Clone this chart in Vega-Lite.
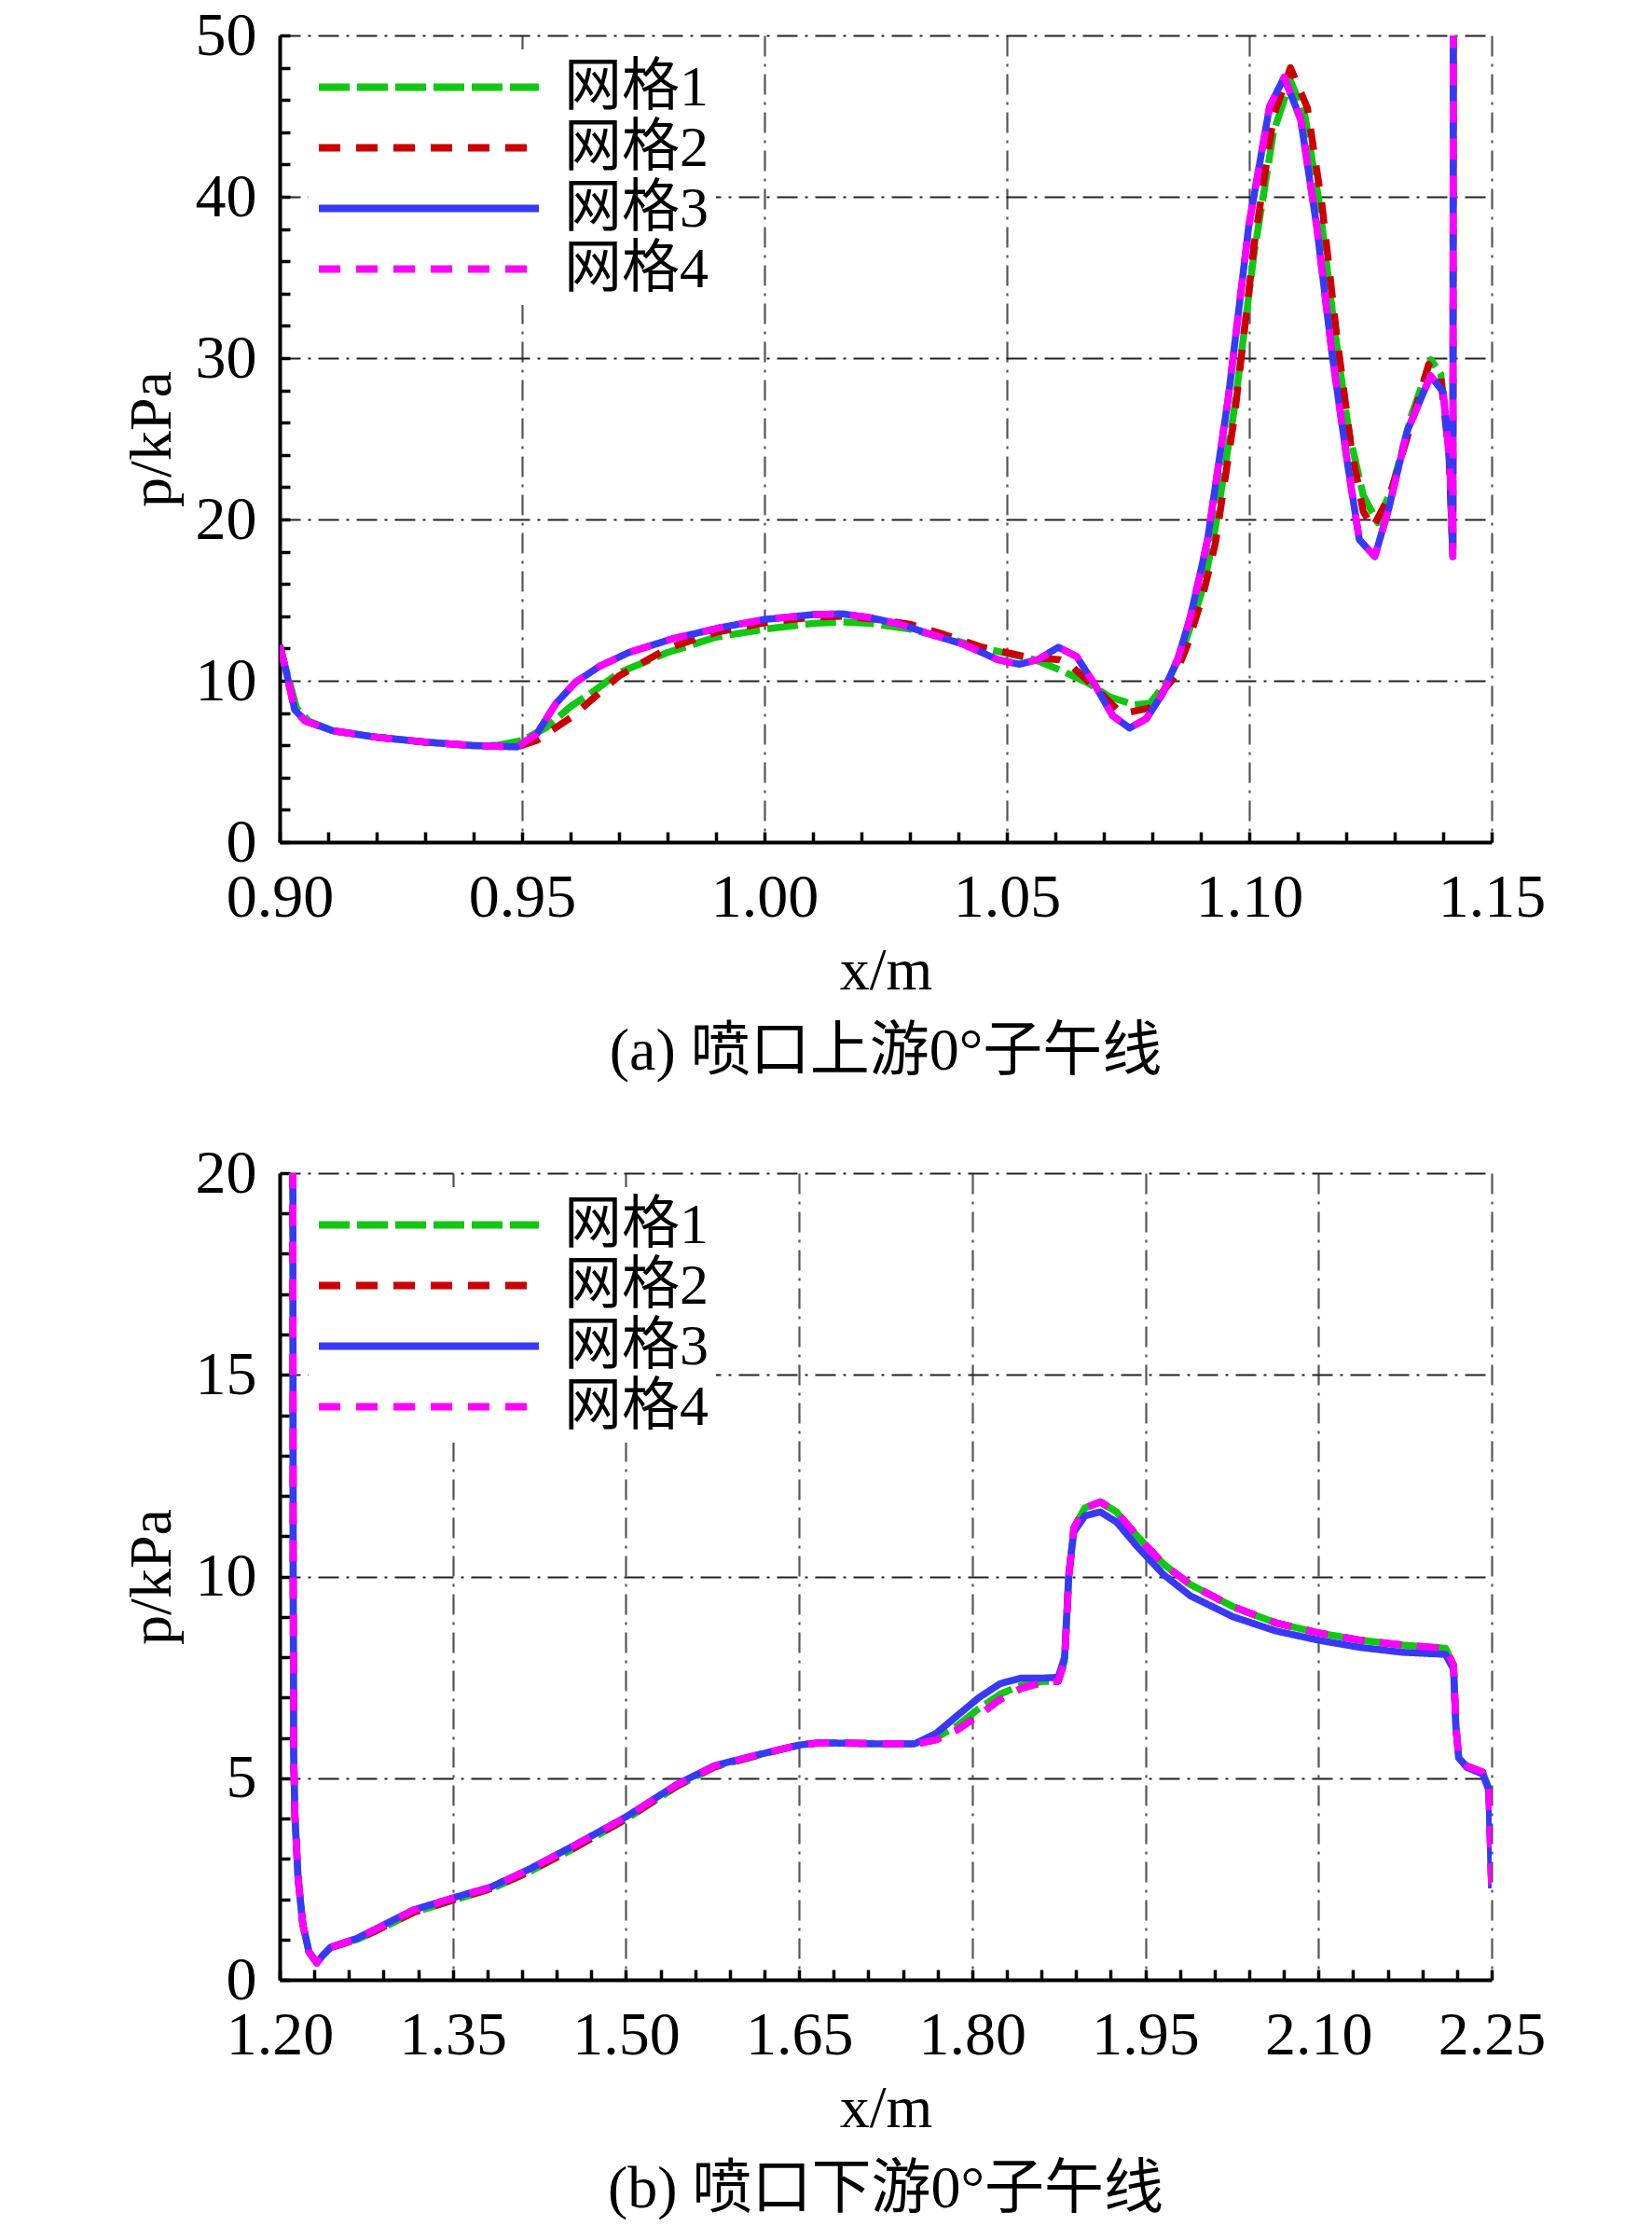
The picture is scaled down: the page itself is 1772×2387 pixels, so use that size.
{
  "$schema": "https://vega.github.io/schema/vega-lite/v6.json",
  "padding": {"left": 131, "top": 5, "right": 0, "bottom": 0},
  "spacing": 65,
  "datasets": {
    "a": [
      {"g": "网格1", "x": 0.9, "p": 12.2}, {"g": "网格1", "x": 0.9014, "p": 10.6}, {"g": "网格1", "x": 0.9035, "p": 8.3}, {"g": "网格1", "x": 0.906, "p": 7.5},
      {"g": "网格1", "x": 0.911, "p": 6.9}, {"g": "网格1", "x": 0.92, "p": 6.5}, {"g": "网格1", "x": 0.93, "p": 6.2}, {"g": "网格1", "x": 0.94, "p": 5.98},
      {"g": "网格1", "x": 0.945, "p": 6.0}, {"g": "网格1", "x": 0.95, "p": 6.3}, {"g": "网格1", "x": 0.955, "p": 7.1}, {"g": "网格1", "x": 0.96, "p": 8.4},
      {"g": "网格1", "x": 0.965, "p": 9.4}, {"g": "网格1", "x": 0.97, "p": 10.5}, {"g": "网格1", "x": 0.98, "p": 11.75}, {"g": "网格1", "x": 0.99, "p": 12.7},
      {"g": "网格1", "x": 1.0, "p": 13.2}, {"g": "网格1", "x": 1.01, "p": 13.55}, {"g": "网格1", "x": 1.016, "p": 13.65}, {"g": "网格1", "x": 1.022, "p": 13.55},
      {"g": "网格1", "x": 1.03, "p": 13.2}, {"g": "网格1", "x": 1.037, "p": 12.7}, {"g": "网格1", "x": 1.044, "p": 12.1}, {"g": "网格1", "x": 1.05, "p": 11.7},
      {"g": "网格1", "x": 1.0558, "p": 11.3}, {"g": "网格1", "x": 1.0615, "p": 10.6}, {"g": "网格1", "x": 1.0667, "p": 9.87}, {"g": "网格1", "x": 1.0712, "p": 9.0},
      {"g": "网格1", "x": 1.0763, "p": 8.51}, {"g": "网格1", "x": 1.0795, "p": 8.6}, {"g": "网格1", "x": 1.0833, "p": 10.06}, {"g": "网格1", "x": 1.0859, "p": 11.6},
      {"g": "网格1", "x": 1.0885, "p": 13.9}, {"g": "网格1", "x": 1.0907, "p": 16.0}, {"g": "网格1", "x": 1.093, "p": 19.5}, {"g": "网格1", "x": 1.097, "p": 27.0},
      {"g": "网格1", "x": 1.101, "p": 36.5}, {"g": "网格1", "x": 1.105, "p": 44.0}, {"g": "网格1", "x": 1.1085, "p": 47.2}, {"g": "网格1", "x": 1.1115, "p": 45.0},
      {"g": "网格1", "x": 1.1145, "p": 39.5}, {"g": "网格1", "x": 1.1175, "p": 32.0}, {"g": "网格1", "x": 1.1205, "p": 25.5}, {"g": "网格1", "x": 1.1235, "p": 21.5},
      {"g": "网格1", "x": 1.1265, "p": 19.8}, {"g": "网格1", "x": 1.1295, "p": 22.0}, {"g": "网格1", "x": 1.1335, "p": 26.5}, {"g": "网格1", "x": 1.1375, "p": 29.9},
      {"g": "网格1", "x": 1.1395, "p": 29.0}, {"g": "网格1", "x": 1.1412, "p": 24.5}, {"g": "网格1", "x": 1.142, "p": 17.7}, {"g": "网格1", "x": 1.1421, "p": 55},

      {"g": "网格2", "x": 0.9, "p": 12.2}, {"g": "网格2", "x": 0.9014, "p": 10.5}, {"g": "网格2", "x": 0.9031, "p": 8.2}, {"g": "网格2", "x": 0.9053, "p": 7.5},
      {"g": "网格2", "x": 0.911, "p": 6.9}, {"g": "网格2", "x": 0.92, "p": 6.5}, {"g": "网格2", "x": 0.93, "p": 6.2}, {"g": "网格2", "x": 0.94, "p": 5.98},
      {"g": "网格2", "x": 0.949, "p": 5.9}, {"g": "网格2", "x": 0.953, "p": 6.3}, {"g": "网格2", "x": 0.9565, "p": 7.0}, {"g": "网格2", "x": 0.96, "p": 7.7},
      {"g": "网格2", "x": 0.965, "p": 9.0}, {"g": "网格2", "x": 0.97, "p": 10.3}, {"g": "网格2", "x": 0.98, "p": 12.0}, {"g": "网格2", "x": 0.99, "p": 13.0},
      {"g": "网格2", "x": 1.0, "p": 13.6}, {"g": "网格2", "x": 1.01, "p": 13.95}, {"g": "网格2", "x": 1.016, "p": 14.0}, {"g": "网格2", "x": 1.022, "p": 13.85},
      {"g": "网格2", "x": 1.03, "p": 13.5}, {"g": "网格2", "x": 1.0372, "p": 12.85}, {"g": "网格2", "x": 1.0449, "p": 12.08}, {"g": "网格2", "x": 1.0538, "p": 11.5},
      {"g": "网格2", "x": 1.0609, "p": 11.3}, {"g": "网格2", "x": 1.063, "p": 11.0}, {"g": "网格2", "x": 1.0679, "p": 9.67}, {"g": "网格2", "x": 1.0731, "p": 8.13},
      {"g": "网格2", "x": 1.0744, "p": 8.0}, {"g": "网格2", "x": 1.0795, "p": 8.32}, {"g": "网格2", "x": 1.0846, "p": 10.25}, {"g": "网格2", "x": 1.0872, "p": 12.18},
      {"g": "网格2", "x": 1.0904, "p": 15.26}, {"g": "网格2", "x": 1.093, "p": 18.5}, {"g": "网格2", "x": 1.097, "p": 26.5}, {"g": "网格2", "x": 1.101, "p": 37.0},
      {"g": "网格2", "x": 1.105, "p": 45.0}, {"g": "网格2", "x": 1.1085, "p": 48.0}, {"g": "网格2", "x": 1.112, "p": 45.5}, {"g": "网格2", "x": 1.115, "p": 39.5},
      {"g": "网格2", "x": 1.118, "p": 31.5}, {"g": "网格2", "x": 1.121, "p": 24.5}, {"g": "网格2", "x": 1.1235, "p": 20.5}, {"g": "网格2", "x": 1.1255, "p": 19.5},
      {"g": "网格2", "x": 1.129, "p": 21.5}, {"g": "网格2", "x": 1.133, "p": 25.5}, {"g": "网格2", "x": 1.137, "p": 29.6}, {"g": "网格2", "x": 1.1395, "p": 28.8},
      {"g": "网格2", "x": 1.1412, "p": 24.0}, {"g": "网格2", "x": 1.142, "p": 17.7}, {"g": "网格2", "x": 1.1421, "p": 55},

      {"g": "网格3", "x": 0.9, "p": 12.2}, {"g": "网格3", "x": 0.9014, "p": 10.5}, {"g": "网格3", "x": 0.9031, "p": 8.2}, {"g": "网格3", "x": 0.9053, "p": 7.5},
      {"g": "网格3", "x": 0.911, "p": 6.9}, {"g": "网格3", "x": 0.92, "p": 6.5}, {"g": "网格3", "x": 0.93, "p": 6.2}, {"g": "网格3", "x": 0.94, "p": 5.98},
      {"g": "网格3", "x": 0.949, "p": 5.9}, {"g": "网格3", "x": 0.953, "p": 6.7}, {"g": "网格3", "x": 0.957, "p": 8.6}, {"g": "网格3", "x": 0.961, "p": 9.9},
      {"g": "网格3", "x": 0.966, "p": 10.9}, {"g": "网格3", "x": 0.972, "p": 11.75}, {"g": "网格3", "x": 0.981, "p": 12.6}, {"g": "网格3", "x": 0.991, "p": 13.3},
      {"g": "网格3", "x": 1.0, "p": 13.8}, {"g": "网格3", "x": 1.01, "p": 14.1}, {"g": "网格3", "x": 1.016, "p": 14.15}, {"g": "网格3", "x": 1.022, "p": 13.9},
      {"g": "网格3", "x": 1.028, "p": 13.5}, {"g": "网格3", "x": 1.0346, "p": 12.85}, {"g": "网格3", "x": 1.041, "p": 12.27}, {"g": "网格3", "x": 1.0481, "p": 11.31},
      {"g": "网格3", "x": 1.0526, "p": 11.02}, {"g": "网格3", "x": 1.0564, "p": 11.31}, {"g": "网格3", "x": 1.0606, "p": 12.08}, {"g": "网格3", "x": 1.0644, "p": 11.5},
      {"g": "网格3", "x": 1.0679, "p": 9.87}, {"g": "网格3", "x": 1.0718, "p": 7.84}, {"g": "网格3", "x": 1.0753, "p": 7.07}, {"g": "网格3", "x": 1.0788, "p": 7.65},
      {"g": "网格3", "x": 1.0821, "p": 9.19}, {"g": "网格3", "x": 1.0853, "p": 11.4}, {"g": "网格3", "x": 1.0878, "p": 13.9}, {"g": "网格3", "x": 1.0897, "p": 16.4},
      {"g": "网格3", "x": 1.0914, "p": 18.75}, {"g": "网格3", "x": 1.0957, "p": 27.6}, {"g": "网格3", "x": 1.0999, "p": 38.2}, {"g": "网格3", "x": 1.1042, "p": 45.6},
      {"g": "网格3", "x": 1.1072, "p": 47.4}, {"g": "网格3", "x": 1.1106, "p": 44.8}, {"g": "网格3", "x": 1.1139, "p": 38.2}, {"g": "网格3", "x": 1.1171, "p": 30.2},
      {"g": "网格3", "x": 1.1203, "p": 23.4}, {"g": "网格3", "x": 1.1227, "p": 18.75}, {"g": "网格3", "x": 1.1259, "p": 17.7}, {"g": "网格3", "x": 1.1288, "p": 20.7},
      {"g": "网格3", "x": 1.1326, "p": 25.5}, {"g": "网格3", "x": 1.1374, "p": 28.9}, {"g": "网格3", "x": 1.14, "p": 27.9}, {"g": "网格3", "x": 1.1414, "p": 23.4},
      {"g": "网格3", "x": 1.142, "p": 17.7}, {"g": "网格3", "x": 1.1421, "p": 55},

      {"g": "网格4", "x": 0.9, "p": 12.2}, {"g": "网格4", "x": 0.9014, "p": 10.5}, {"g": "网格4", "x": 0.9031, "p": 8.2}, {"g": "网格4", "x": 0.9053, "p": 7.5},
      {"g": "网格4", "x": 0.911, "p": 6.9}, {"g": "网格4", "x": 0.92, "p": 6.5}, {"g": "网格4", "x": 0.93, "p": 6.2}, {"g": "网格4", "x": 0.94, "p": 5.98},
      {"g": "网格4", "x": 0.949, "p": 5.9}, {"g": "网格4", "x": 0.953, "p": 6.7}, {"g": "网格4", "x": 0.957, "p": 8.6}, {"g": "网格4", "x": 0.961, "p": 9.9},
      {"g": "网格4", "x": 0.966, "p": 10.9}, {"g": "网格4", "x": 0.972, "p": 11.75}, {"g": "网格4", "x": 0.981, "p": 12.6}, {"g": "网格4", "x": 0.991, "p": 13.3},
      {"g": "网格4", "x": 1.0, "p": 13.8}, {"g": "网格4", "x": 1.01, "p": 14.1}, {"g": "网格4", "x": 1.016, "p": 14.15}, {"g": "网格4", "x": 1.022, "p": 13.9},
      {"g": "网格4", "x": 1.028, "p": 13.5}, {"g": "网格4", "x": 1.0346, "p": 12.85}, {"g": "网格4", "x": 1.041, "p": 12.27}, {"g": "网格4", "x": 1.0481, "p": 11.31},
      {"g": "网格4", "x": 1.0526, "p": 11.02}, {"g": "网格4", "x": 1.0564, "p": 11.31}, {"g": "网格4", "x": 1.0606, "p": 12.08}, {"g": "网格4", "x": 1.0644, "p": 11.5},
      {"g": "网格4", "x": 1.0679, "p": 9.87}, {"g": "网格4", "x": 1.0718, "p": 7.84}, {"g": "网格4", "x": 1.0753, "p": 7.07}, {"g": "网格4", "x": 1.0788, "p": 7.65},
      {"g": "网格4", "x": 1.0821, "p": 9.19}, {"g": "网格4", "x": 1.0853, "p": 11.4}, {"g": "网格4", "x": 1.0878, "p": 13.9}, {"g": "网格4", "x": 1.0897, "p": 16.4},
      {"g": "网格4", "x": 1.0914, "p": 18.75}, {"g": "网格4", "x": 1.0957, "p": 27.6}, {"g": "网格4", "x": 1.0999, "p": 38.2}, {"g": "网格4", "x": 1.1042, "p": 45.6},
      {"g": "网格4", "x": 1.1072, "p": 47.4}, {"g": "网格4", "x": 1.1106, "p": 44.8}, {"g": "网格4", "x": 1.1139, "p": 38.2}, {"g": "网格4", "x": 1.1171, "p": 30.2},
      {"g": "网格4", "x": 1.1203, "p": 23.4}, {"g": "网格4", "x": 1.1227, "p": 18.75}, {"g": "网格4", "x": 1.1259, "p": 17.7}, {"g": "网格4", "x": 1.1288, "p": 20.7},
      {"g": "网格4", "x": 1.1326, "p": 25.5}, {"g": "网格4", "x": 1.1374, "p": 28.9}, {"g": "网格4", "x": 1.14, "p": 27.9}, {"g": "网格4", "x": 1.1414, "p": 23.4},
      {"g": "网格4", "x": 1.142, "p": 17.7}, {"g": "网格4", "x": 1.1421, "p": 55}
    ],
    "b": [
      {"g": "网格1", "x": 1.2114, "p": 22}, {"g": "网格1", "x": 1.2117, "p": 10}, {"g": "网格1", "x": 1.2121, "p": 5.6}, {"g": "网格1", "x": 1.2132, "p": 4.07},
      {"g": "网格1", "x": 1.2159, "p": 2.54}, {"g": "网格1", "x": 1.22, "p": 1.38}, {"g": "网格1", "x": 1.2254, "p": 0.69}, {"g": "网格1", "x": 1.2321, "p": 0.42},
      {"g": "网格1", "x": 1.2375, "p": 0.61}, {"g": "网格1", "x": 1.2442, "p": 0.8}, {"g": "网格1", "x": 1.2671, "p": 1.0}, {"g": "网格1", "x": 1.2886, "p": 1.28},
      {"g": "网格1", "x": 1.3156, "p": 1.66}, {"g": "网格1", "x": 1.35, "p": 1.97}, {"g": "网格1", "x": 1.3829, "p": 2.25}, {"g": "网格1", "x": 1.4153, "p": 2.66},
      {"g": "网格1", "x": 1.4557, "p": 3.27}, {"g": "网格1", "x": 1.5, "p": 3.98}, {"g": "网格1", "x": 1.5444, "p": 4.8}, {"g": "网格1", "x": 1.5767, "p": 5.28},
      {"g": "网格1", "x": 1.6144, "p": 5.57}, {"g": "网格1", "x": 1.65, "p": 5.82}, {"g": "网格1", "x": 1.6676, "p": 5.87}, {"g": "网格1", "x": 1.7136, "p": 5.86},
      {"g": "网格1", "x": 1.75, "p": 5.85}, {"g": "网格1", "x": 1.7687, "p": 6.0}, {"g": "网格1", "x": 1.787, "p": 6.3}, {"g": "网格1", "x": 1.8055, "p": 6.72},
      {"g": "网格1", "x": 1.824, "p": 7.08}, {"g": "网格1", "x": 1.842, "p": 7.3}, {"g": "网格1", "x": 1.8607, "p": 7.4}, {"g": "网格1", "x": 1.8745, "p": 7.4},
      {"g": "网格1", "x": 1.88, "p": 7.9}, {"g": "网格1", "x": 1.8837, "p": 10.0}, {"g": "网格1", "x": 1.888, "p": 11.2}, {"g": "网格1", "x": 1.8975, "p": 11.7},
      {"g": "网格1", "x": 1.911, "p": 11.85}, {"g": "网格1", "x": 1.925, "p": 11.6}, {"g": "网格1", "x": 1.943, "p": 11.0}, {"g": "网格1", "x": 1.966, "p": 10.3},
      {"g": "网格1", "x": 1.989, "p": 9.8}, {"g": "网格1", "x": 2.026, "p": 9.25}, {"g": "网格1", "x": 2.063, "p": 8.85}, {"g": "网格1", "x": 2.1, "p": 8.6},
      {"g": "网格1", "x": 2.1365, "p": 8.42}, {"g": "网格1", "x": 2.173, "p": 8.3}, {"g": "网格1", "x": 2.21, "p": 8.22}, {"g": "网格1", "x": 2.217, "p": 7.8},
      {"g": "网格1", "x": 2.219, "p": 6.3}, {"g": "网格1", "x": 2.2215, "p": 5.5}, {"g": "网格1", "x": 2.2284, "p": 5.3}, {"g": "网格1", "x": 2.2422, "p": 5.15},
      {"g": "网格1", "x": 2.2476, "p": 4.75}, {"g": "网格1", "x": 2.25, "p": 2.27},

      {"g": "网格2", "x": 1.2114, "p": 22}, {"g": "网格2", "x": 1.2117, "p": 10}, {"g": "网格2", "x": 1.2121, "p": 5.6}, {"g": "网格2", "x": 1.2132, "p": 4.07},
      {"g": "网格2", "x": 1.2159, "p": 2.54}, {"g": "网格2", "x": 1.22, "p": 1.38}, {"g": "网格2", "x": 1.2254, "p": 0.69}, {"g": "网格2", "x": 1.2321, "p": 0.42},
      {"g": "网格2", "x": 1.2375, "p": 0.61}, {"g": "网格2", "x": 1.2442, "p": 0.8}, {"g": "网格2", "x": 1.2671, "p": 1.0}, {"g": "网格2", "x": 1.2886, "p": 1.29},
      {"g": "网格2", "x": 1.3156, "p": 1.67}, {"g": "网格2", "x": 1.35, "p": 1.98}, {"g": "网格2", "x": 1.3829, "p": 2.26}, {"g": "网格2", "x": 1.4153, "p": 2.67},
      {"g": "网格2", "x": 1.4557, "p": 3.28}, {"g": "网格2", "x": 1.5, "p": 3.99}, {"g": "网格2", "x": 1.5444, "p": 4.81}, {"g": "网格2", "x": 1.5767, "p": 5.28},
      {"g": "网格2", "x": 1.6144, "p": 5.57}, {"g": "网格2", "x": 1.65, "p": 5.82}, {"g": "网格2", "x": 1.6676, "p": 5.87}, {"g": "网格2", "x": 1.7136, "p": 5.86},
      {"g": "网格2", "x": 1.75, "p": 5.84}, {"g": "网格2", "x": 1.7687, "p": 5.95}, {"g": "网格2", "x": 1.787, "p": 6.2}, {"g": "网格2", "x": 1.8055, "p": 6.55},
      {"g": "网格2", "x": 1.824, "p": 6.95}, {"g": "网格2", "x": 1.842, "p": 7.22}, {"g": "网格2", "x": 1.8607, "p": 7.37}, {"g": "网格2", "x": 1.8745, "p": 7.4},
      {"g": "网格2", "x": 1.88, "p": 7.9}, {"g": "网格2", "x": 1.8837, "p": 10.0}, {"g": "网格2", "x": 1.888, "p": 11.2}, {"g": "网格2", "x": 1.8975, "p": 11.7},
      {"g": "网格2", "x": 1.911, "p": 11.85}, {"g": "网格2", "x": 1.925, "p": 11.6}, {"g": "网格2", "x": 1.943, "p": 11.0}, {"g": "网格2", "x": 1.966, "p": 10.3},
      {"g": "网格2", "x": 1.989, "p": 9.8}, {"g": "网格2", "x": 2.026, "p": 9.25}, {"g": "网格2", "x": 2.063, "p": 8.85}, {"g": "网格2", "x": 2.1, "p": 8.6},
      {"g": "网格2", "x": 2.1365, "p": 8.42}, {"g": "网格2", "x": 2.173, "p": 8.3}, {"g": "网格2", "x": 2.21, "p": 8.22}, {"g": "网格2", "x": 2.217, "p": 7.8},
      {"g": "网格2", "x": 2.219, "p": 6.3}, {"g": "网格2", "x": 2.2215, "p": 5.5}, {"g": "网格2", "x": 2.2284, "p": 5.3}, {"g": "网格2", "x": 2.2422, "p": 5.15},
      {"g": "网格2", "x": 2.2476, "p": 4.75}, {"g": "网格2", "x": 2.25, "p": 2.27},

      {"g": "网格3", "x": 1.2114, "p": 22}, {"g": "网格3", "x": 1.2117, "p": 10}, {"g": "网格3", "x": 1.2121, "p": 5.6}, {"g": "网格3", "x": 1.2132, "p": 4.07},
      {"g": "网格3", "x": 1.2159, "p": 2.54}, {"g": "网格3", "x": 1.22, "p": 1.38}, {"g": "网格3", "x": 1.2254, "p": 0.69}, {"g": "网格3", "x": 1.2321, "p": 0.42},
      {"g": "网格3", "x": 1.2375, "p": 0.61}, {"g": "网格3", "x": 1.2442, "p": 0.81}, {"g": "网格3", "x": 1.2671, "p": 1.03}, {"g": "网格3", "x": 1.2886, "p": 1.34},
      {"g": "网格3", "x": 1.3156, "p": 1.73}, {"g": "网格3", "x": 1.35, "p": 2.03}, {"g": "网格3", "x": 1.3829, "p": 2.3}, {"g": "网格3", "x": 1.4153, "p": 2.73},
      {"g": "网格3", "x": 1.4557, "p": 3.34}, {"g": "网格3", "x": 1.5, "p": 4.04}, {"g": "网格3", "x": 1.5444, "p": 4.85}, {"g": "网格3", "x": 1.5767, "p": 5.31},
      {"g": "网格3", "x": 1.6144, "p": 5.58}, {"g": "网格3", "x": 1.65, "p": 5.82}, {"g": "网格3", "x": 1.6676, "p": 5.88}, {"g": "网格3", "x": 1.7136, "p": 5.85},
      {"g": "网格3", "x": 1.75, "p": 5.85}, {"g": "网格3", "x": 1.7687, "p": 6.11}, {"g": "网格3", "x": 1.787, "p": 6.55}, {"g": "网格3", "x": 1.8055, "p": 6.99},
      {"g": "网格3", "x": 1.824, "p": 7.34}, {"g": "网格3", "x": 1.842, "p": 7.48}, {"g": "网格3", "x": 1.8607, "p": 7.48}, {"g": "网格3", "x": 1.8745, "p": 7.5},
      {"g": "网格3", "x": 1.88, "p": 8.0}, {"g": "网格3", "x": 1.8837, "p": 10.1}, {"g": "网格3", "x": 1.888, "p": 11.1}, {"g": "网格3", "x": 1.8975, "p": 11.5},
      {"g": "网格3", "x": 1.911, "p": 11.6}, {"g": "网格3", "x": 1.925, "p": 11.35}, {"g": "网格3", "x": 1.943, "p": 10.74}, {"g": "网格3", "x": 1.966, "p": 10.04},
      {"g": "网格3", "x": 1.989, "p": 9.52}, {"g": "网格3", "x": 2.026, "p": 9.0}, {"g": "网格3", "x": 2.063, "p": 8.65}, {"g": "网格3", "x": 2.1, "p": 8.42},
      {"g": "网格3", "x": 2.1365, "p": 8.24}, {"g": "网格3", "x": 2.173, "p": 8.12}, {"g": "网格3", "x": 2.21, "p": 8.07}, {"g": "网格3", "x": 2.217, "p": 7.7},
      {"g": "网格3", "x": 2.219, "p": 6.29}, {"g": "网格3", "x": 2.2215, "p": 5.5}, {"g": "网格3", "x": 2.2284, "p": 5.27}, {"g": "网格3", "x": 2.2422, "p": 5.1},
      {"g": "网格3", "x": 2.2476, "p": 4.7}, {"g": "网格3", "x": 2.25, "p": 2.27},

      {"g": "网格4", "x": 1.2114, "p": 22}, {"g": "网格4", "x": 1.2117, "p": 10}, {"g": "网格4", "x": 1.2121, "p": 5.6}, {"g": "网格4", "x": 1.2132, "p": 4.07},
      {"g": "网格4", "x": 1.2159, "p": 2.54}, {"g": "网格4", "x": 1.22, "p": 1.38}, {"g": "网格4", "x": 1.2254, "p": 0.69}, {"g": "网格4", "x": 1.2321, "p": 0.42},
      {"g": "网格4", "x": 1.2375, "p": 0.61}, {"g": "网格4", "x": 1.2442, "p": 0.81}, {"g": "网格4", "x": 1.2671, "p": 1.02}, {"g": "网格4", "x": 1.2886, "p": 1.33},
      {"g": "网格4", "x": 1.3156, "p": 1.72}, {"g": "网格4", "x": 1.35, "p": 2.02}, {"g": "网格4", "x": 1.3829, "p": 2.29}, {"g": "网格4", "x": 1.4153, "p": 2.72},
      {"g": "网格4", "x": 1.4557, "p": 3.33}, {"g": "网格4", "x": 1.5, "p": 4.03}, {"g": "网格4", "x": 1.5444, "p": 4.84}, {"g": "网格4", "x": 1.5767, "p": 5.3},
      {"g": "网格4", "x": 1.6144, "p": 5.58}, {"g": "网格4", "x": 1.65, "p": 5.82}, {"g": "网格4", "x": 1.6676, "p": 5.87}, {"g": "网格4", "x": 1.7136, "p": 5.86},
      {"g": "网格4", "x": 1.75, "p": 5.84}, {"g": "网格4", "x": 1.7687, "p": 5.95}, {"g": "网格4", "x": 1.787, "p": 6.2}, {"g": "网格4", "x": 1.8055, "p": 6.55},
      {"g": "网格4", "x": 1.824, "p": 6.95}, {"g": "网格4", "x": 1.842, "p": 7.22}, {"g": "网格4", "x": 1.8607, "p": 7.37}, {"g": "网格4", "x": 1.8745, "p": 7.4},
      {"g": "网格4", "x": 1.88, "p": 7.9}, {"g": "网格4", "x": 1.8837, "p": 10.0}, {"g": "网格4", "x": 1.888, "p": 11.2}, {"g": "网格4", "x": 1.8975, "p": 11.7},
      {"g": "网格4", "x": 1.911, "p": 11.85}, {"g": "网格4", "x": 1.925, "p": 11.6}, {"g": "网格4", "x": 1.943, "p": 11.0}, {"g": "网格4", "x": 1.966, "p": 10.3},
      {"g": "网格4", "x": 1.989, "p": 9.8}, {"g": "网格4", "x": 2.026, "p": 9.25}, {"g": "网格4", "x": 2.063, "p": 8.85}, {"g": "网格4", "x": 2.1, "p": 8.6},
      {"g": "网格4", "x": 2.1365, "p": 8.42}, {"g": "网格4", "x": 2.173, "p": 8.3}, {"g": "网格4", "x": 2.21, "p": 8.22}, {"g": "网格4", "x": 2.217, "p": 7.8},
      {"g": "网格4", "x": 2.219, "p": 6.3}, {"g": "网格4", "x": 2.2215, "p": 5.5}, {"g": "网格4", "x": 2.2284, "p": 5.3}, {"g": "网格4", "x": 2.2422, "p": 5.15},
      {"g": "网格4", "x": 2.2476, "p": 4.75}, {"g": "网格4", "x": 2.25, "p": 2.27}
    ]
  },
  "resolve": {"scale": {"color": "independent", "strokeDash": "independent"}},
  "vconcat": [
    {
      "width": 1300,
      "height": 865,
      "data": {"name": "a"},
      "title": {"text": "(a) 喷口上游0°子午线"},
      "mark": {"type": "line", "clip": true, "strokeWidth": 7.5, "strokeCap": "butt", "strokeJoin": "round"},
      "encoding": {
        "x": {
          "field": "x", "type": "quantitative",
          "scale": {"domain": [0.9, 1.15], "nice": false, "zero": false},
          "axis": {
            "title": "x/m",
            "values": [0.9, 0.91, 0.92, 0.93, 0.94, 0.95, 0.96, 0.97, 0.98, 0.99, 1.0, 1.01, 1.02, 1.03, 1.04, 1.05, 1.06, 1.07, 1.08, 1.09, 1.1, 1.11, 1.12, 1.13, 1.14, 1.15],
            "labelExpr": "round(datum.value*100) % 5 == 0 ? format(datum.value, '.2f') : ''",
            "gridOpacity": {"condition": {"test": "round(datum.value*100) % 5 == 0", "value": 1}, "value": 0},
            "encode": {
              "ticks": {"update": {"y2": {"signal": "round(datum.value*100) % 5 == 0 ? -17 : -11"}}}
            }
          }
        },
        "y": {
          "field": "p", "type": "quantitative",
          "scale": {"domain": [0, 50], "nice": false},
          "axis": {
            "title": "p/kPa",
            "values": [0, 2, 4, 6, 8, 10, 12, 14, 16, 18, 20, 22, 24, 26, 28, 30, 32, 34, 36, 38, 40, 42, 44, 46, 48, 50],
            "labelExpr": "datum.value % 10 == 0 ? datum.label : ''",
            "gridOpacity": {"condition": {"test": "datum.value % 10 == 0", "value": 1}, "value": 0},
            "encode": {
              "ticks": {"update": {"x2": {"signal": "datum.value % 10 == 0 ? 17 : 11"}}}
            }
          }
        },
        "color": {
          "field": "g", "type": "nominal",
          "scale": {"domain": ["网格1", "网格2", "网格3", "网格4"], "range": ["#11c811", "#cc0000", "#3838f8", "#ff00ff"]},
          "legend": {"title": null}
        },
        "strokeDash": {
          "field": "g", "type": "nominal",
          "scale": {"domain": ["网格1", "网格2", "网格3", "网格4"], "range": [[33, 8], [23, 17], [1, 0], [23, 17]]},
          "legend": {"title": null}
        }
      }
    },
    {
      "width": 1300,
      "height": 865,
      "data": {"name": "b"},
      "title": {"text": "(b) 喷口下游0°子午线"},
      "mark": {"type": "line", "clip": true, "strokeWidth": 7.5, "strokeCap": "butt", "strokeJoin": "round"},
      "encoding": {
        "x": {
          "field": "x", "type": "quantitative",
          "scale": {"domain": [1.2, 2.25], "nice": false, "zero": false},
          "axis": {
            "title": "x/m",
            "values": [1.2, 1.23, 1.26, 1.29, 1.32, 1.35, 1.38, 1.41, 1.44, 1.47, 1.5, 1.53, 1.56, 1.59, 1.62, 1.65, 1.68, 1.71, 1.74, 1.77, 1.8, 1.83, 1.86, 1.89, 1.92, 1.95, 1.98, 2.01, 2.04, 2.07, 2.1, 2.13, 2.16, 2.19, 2.22, 2.25],
            "labelExpr": "round(datum.value*100) % 15 == 0 ? format(datum.value, '.2f') : ''",
            "gridOpacity": {"condition": {"test": "round(datum.value*100) % 15 == 0", "value": 1}, "value": 0},
            "encode": {
              "ticks": {"update": {"y2": {"signal": "round(datum.value*100) % 15 == 0 ? -17 : -11"}}},
              "labels": {"update": {"dy": {"signal": "datum.value > 2.24 ? 8 : 0"}}}
            }
          }
        },
        "y": {
          "field": "p", "type": "quantitative",
          "scale": {"domain": [0, 20], "nice": false},
          "axis": {
            "title": "p/kPa",
            "values": [0, 1, 2, 3, 4, 5, 6, 7, 8, 9, 10, 11, 12, 13, 14, 15, 16, 17, 18, 19, 20],
            "labelExpr": "datum.value % 5 == 0 ? datum.label : ''",
            "gridOpacity": {"condition": {"test": "datum.value % 5 == 0", "value": 1}, "value": 0},
            "encode": {
              "ticks": {"update": {"x2": {"signal": "datum.value % 5 == 0 ? 17 : 11"}}}
            }
          }
        },
        "color": {
          "field": "g", "type": "nominal",
          "scale": {"domain": ["网格1", "网格2", "网格3", "网格4"], "range": ["#11c811", "#cc0000", "#3838f8", "#ff00ff"]},
          "legend": {"title": null}
        },
        "strokeDash": {
          "field": "g", "type": "nominal",
          "scale": {"domain": ["网格1", "网格2", "网格3", "网格4"], "range": [[33, 8], [23, 17], [1, 0], [23, 17]]},
          "legend": {"title": null}
        }
      }
    }
  ],
  "config": {
    "view": {"stroke": null},
    "font": "Liberation Serif",
    "axis": {
      "domainColor": "black",
      "domainWidth": 4,
      "tickColor": "black",
      "tickWidth": 3.5,
      "tickSize": -11,
      "labelFont": "Liberation Serif",
      "labelFontSize": 66,
      "labelColor": "black",
      "labelOverlap": false,
      "labelFlush": false,
      "labelBound": false,
      "titleFont": "Liberation Serif",
      "titleFontSize": 64,
      "titleFontWeight": "normal",
      "titleColor": "black",
      "grid": true,
      "gridWidth": 2.2,
      "gridDash": [22, 8, 3, 8]
    },
    "axisX": {"labelPadding": 38, "titlePadding": 14, "gridColor": "#555555"},
    "axisY": {"labelPadding": 36, "titlePadding": 14, "gridColor": "#222222"},
    "legend": {
      "orient": "none",
      "legendX": 31,
      "legendY": 15,
      "fillColor": "white",
      "padding": 7,
      "symbolType": "M-1,0H7",
      "symbolSize": 3481,
      "symbolStrokeWidth": 8,
      "labelFont": "Liberation Serif, Noto Sans CJK SC",
      "labelFontSize": 62,
      "labelColor": "black",
      "labelOffset": 200,
      "labelLimit": 0,
      "rowPadding": 0
    },
    "title": {
      "orient": "bottom",
      "anchor": "middle",
      "frame": "group",
      "font": "Liberation Serif, Noto Sans CJK SC",
      "fontSize": 64,
      "fontWeight": "normal",
      "color": "black",
      "offset": 23
    }
  }
}
